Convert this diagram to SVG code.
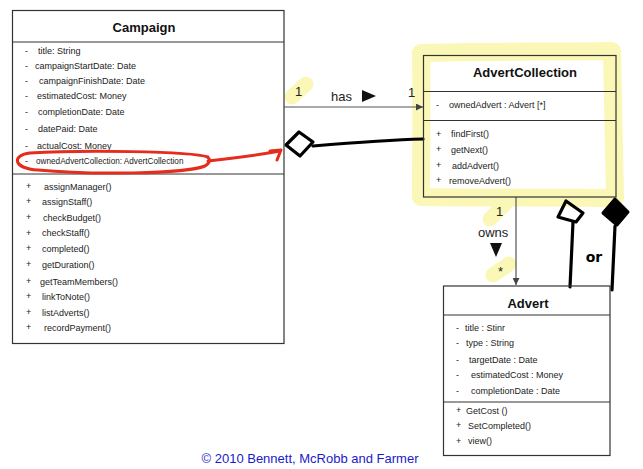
<svg xmlns="http://www.w3.org/2000/svg" width="643" height="469" viewBox="0 0 643 469">
<defs>
<style>
.box{fill:none;stroke:#333;stroke-width:1.2}
.div{stroke:#333;stroke-width:1}
.t{font-family:"Liberation Sans",Arial,sans-serif;font-size:9px;fill:#222}
.ti{font-family:"Liberation Sans",Arial,sans-serif;font-size:13px;font-weight:bold;fill:#111;text-anchor:middle}
.lbl{font-family:"Liberation Sans",Arial,sans-serif;font-size:13px;fill:#222}
.hl{fill:none;stroke:#fbf7b6;stroke-linecap:round;stroke-linejoin:round}
.ink{fill:none;stroke:#000;stroke-width:3.2;stroke-linecap:round;stroke-linejoin:round}
.red{fill:none;stroke:#e42d1c;stroke-width:3;stroke-linecap:round;stroke-linejoin:round}
.conn{fill:none;stroke:#555;stroke-width:1.2}
</style>
<marker id="arr" viewBox="0 0 8 8" refX="8" refY="4" markerWidth="7" markerHeight="7" markerUnits="userSpaceOnUse" orient="auto">
<path d="M0 0 L8 4 L0 8 Z" fill="#444"/>
</marker>
</defs>
<rect width="643" height="469" fill="#fff"/>

<g id="highlights">
<path class="hl" stroke-width="18" d="M421 53 C480 51 560 52 612 51 C613 100 614 150 615 198 C560 197 480 198 421 197 C421 150 422 100 421 53 Z"/>
<path class="hl" stroke-width="15" d="M490 219 L505 204"/>
<path class="hl" stroke-width="15" d="M292 97 L306 84"/>
<path class="hl" stroke-width="15" d="M493 275 L509 264"/>
</g>

<g id="connectors">
<g id="has">
<line class="conn" x1="284" y1="107" x2="423" y2="107" marker-end="url(#arr)"/>
<text class="lbl" x="295" y="96">1</text>
<text class="lbl" x="331" y="101">has</text>
<path d="M362 90 L376 96 L362 102 Z" fill="#111"/>
<text class="lbl" x="408" y="97">1</text>
</g>
<g id="owns">
<line class="conn" x1="516" y1="197" x2="516" y2="285" marker-end="url(#arr)"/>
<text class="lbl" x="496" y="216">1</text>
<text class="lbl" x="478" y="237">owns</text>
<path d="M490 243 L502 243 L496 257 Z" fill="#111"/>
<text class="lbl" x="498" y="276" font-size="11">*</text>
</g>
<g id="aggregation">
<path class="ink" d="M286 145 L299 132 L313 142 L300 156 Z"/>
<path class="ink" d="M313 146 C350 143 390 140 423 139"/>
</g>
<g id="alt-diamonds">
<path class="ink" d="M566 201 L583 213 L576 222 L558 217 Z"/>
<path class="ink" d="M573 222 C572 245 571 265 570 287"/>
<path d="M615 199 L628 212 L617 225 L603 213 Z" fill="#000" stroke="#000" stroke-width="3" stroke-linejoin="round"/>
<path class="ink" d="M615 226 C614 250 613 270 612 290"/>
<text x="594" y="262" text-anchor="middle" font-family="'DejaVu Sans',sans-serif" font-size="14" font-weight="bold" fill="#000">or</text>
</g>
</g>

<g id="Campaign">
<rect class="box" x="12.5" y="10.5" width="271.5" height="333"/>
<line class="div" x1="12.5" y1="42" x2="284" y2="42"/>
<line class="div" x1="12.5" y1="174" x2="284" y2="174"/>
<text class="ti" x="144" y="32">Campaign</text>
<g class="t">
<text x="25" y="54">-</text><text x="38" y="54">title: String</text>
<text x="25" y="69">-</text><text x="35" y="69">campaignStartDate: Date</text>
<text x="25" y="84">-</text><text x="39" y="84">campaignFinishDate: Date</text>
<text x="25" y="99">-</text><text x="37" y="99">estimatedCost: Money</text>
<text x="25" y="115">-</text><text x="38" y="115">completionDate: Date</text>
<text x="25" y="132">-</text><text x="38" y="132">datePaid: Date</text>
<text x="25" y="149">-</text><text x="37" y="149">actualCost: Money</text>
<text x="25" y="164">-</text><text x="36" y="164" font-size="8.2">ownedAdvertCollection: AdvertCollection</text>
<text x="26" y="189">+</text><text x="44" y="190">assignManager()</text>
<text x="26" y="204">+</text><text x="42" y="205">assignStaff()</text>
<text x="26" y="220">+</text><text x="43" y="221">checkBudget()</text>
<text x="26" y="236">+</text><text x="42" y="236">checkStaff()</text>
<text x="26" y="251">+</text><text x="42" y="252">completed()</text>
<text x="26" y="267">+</text><text x="42" y="268">getDuration()</text>
<text x="26" y="284">+</text><text x="40" y="285">getTeamMembers()</text>
<text x="26" y="299">+</text><text x="42" y="300">linkToNote()</text>
<text x="26" y="315">+</text><text x="42" y="316">listAdverts()</text>
<text x="26" y="330">+</text><text x="44" y="331">recordPayment()</text>
</g>
<path class="red" d="M208 157 C190 151 80 150 30 153 C12 155 12 168 38 170 C90 175 185 174 205 166 C210 163 211 159 207 157"/>
<path class="red" d="M208 161 C235 158 258 155 280 151"/>
<path class="red" d="M270 151 L281 150 L277 160"/>
</g>

<g id="AdvertCollection">
<rect class="box" x="423.5" y="55.5" width="192.5" height="141.5"/>
<line class="div" x1="423.5" y1="91.5" x2="616" y2="91.5"/>
<line class="div" x1="423.5" y1="120.5" x2="616" y2="120.5"/>
<text class="ti" x="525" y="77">AdvertCollection</text>
<g class="t">
<text x="436" y="108">-</text><text x="449" y="108">ownedAdvert : Advert [*]</text>
<text x="436" y="137">+</text><text x="451" y="137">findFirst()</text>
<text x="436" y="152">+</text><text x="451" y="153">getNext()</text>
<text x="436" y="168">+</text><text x="452" y="169">addAdvert()</text>
<text x="436" y="183">+</text><text x="449" y="184">removeAdvert()</text>
</g>
</g>

<g id="Advert">
<rect class="box" x="443.5" y="286" width="166.5" height="169.5"/>
<line class="div" x1="443.5" y1="315" x2="610" y2="315"/>
<line class="div" x1="443.5" y1="402" x2="610" y2="402"/>
<text class="ti" x="528" y="308">Advert</text>
<g class="t">
<text x="456" y="331">-</text><text x="465" y="331">title : Stinr</text>
<text x="456" y="346">-</text><text x="466" y="346">type : String</text>
<text x="456" y="363">-</text><text x="469" y="363">targetDate : Date</text>
<text x="456" y="378">-</text><text x="471" y="378">estimatedCost : Money</text>
<text x="456" y="394">-</text><text x="471" y="394">completionDate : Date</text>
<text x="456" y="413">+</text><text x="466" y="414">GetCost ()</text>
<text x="456" y="428">+</text><text x="468" y="429">SetCompleted()</text>
<text x="456" y="444">+</text><text x="468" y="444">view()</text>
</g>
</g>

<text x="310" y="463" text-anchor="middle" font-family="'Liberation Sans',Arial,sans-serif" font-size="13" fill="#1a1acc">© 2010 Bennett, McRobb and Farmer</text>
</svg>
